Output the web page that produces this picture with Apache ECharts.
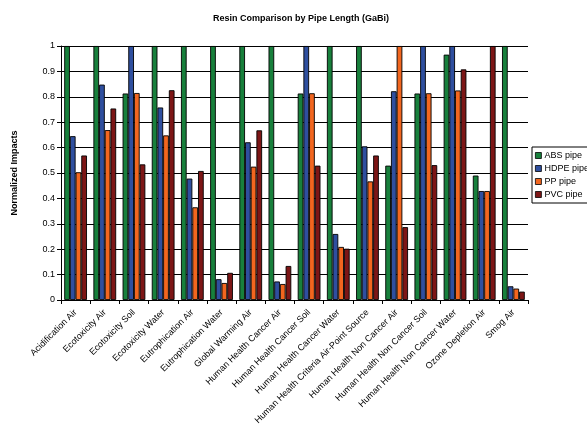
<!DOCTYPE html>
<html>
<head>
<meta charset="utf-8">
<script src="https://cdn.jsdelivr.net/npm/echarts@6/dist/echarts.min.js"></script>
<style>
html,body{margin:0;padding:0;background:#fff;}
#chart{width:587px;height:425px;}
</style>
</head>
<body>
<div id="chart"></div>
<script>
const categories = [
  "Acidification Air","Ecotoxicity Air","Ecotoxicity Soil","Ecotoxicity Water",
  "Eutrophication Air","Eutrophication Water","Global Warming Air",
  "Human Health Cancer Air","Human Health Cancer Soil","Human Health Cancer Water",
  "Human Health Criteria Air-Point Source","Human Health Non Cancer Air",
  "Human Health Non Cancer Soil","Human Health Non Cancer Water",
  "Ozone Depletion Air","Smog Air"
];
const absPipe  = [1, 1, 0.813, 1, 1, 1, 1, 1, 0.813, 1, 1, 0.529, 0.813, 0.966, 0.490, 1];
const hdpePipe = [0.645, 0.848, 1, 0.758, 0.478, 0.082, 0.621, 0.073, 1, 0.260, 0.605, 0.822, 1, 1, 0.429, 0.054];
const ppPipe   = [0.503, 0.669, 0.815, 0.648, 0.365, 0.067, 0.525, 0.063, 0.814, 0.209, 0.467, 1, 0.814, 0.825, 0.429, 0.045];
const pvcPipe  = [0.569, 0.754, 0.534, 0.826, 0.508, 0.107, 0.668, 0.134, 0.529, 0.202, 0.569, 0.287, 0.531, 0.908, 1, 0.033];
const seriesNames = ["ABS pipe", "HDPE pipe", "PP pipe", "PVC pipe"];
const seriesColors = ["#18803c", "#2f4f9f", "#f2661f", "#7d1616"];
const yTicks = [0, 0.1, 0.2, 0.3, 0.4, 0.5, 0.6, 0.7, 0.8, 0.9, 1];

const font = "Liberation Sans, Arial, sans-serif";
const chart = echarts.init(document.getElementById('chart'), null, {renderer: 'canvas'});
const dataSets = [absPipe, hdpePipe, ppPipe, pvcPipe];

chart.setOption({
  animation: false,
  backgroundColor: '#fff',
  title: {
    text: 'Resin Comparison by Pipe Length (GaBi)',
    left: 296, top: 9, textAlign: 'center',
    textStyle: {fontFamily: font, fontSize: 9, fontWeight: 'bold', color: '#000'}
  },
  legend: {
    orient: 'vertical', left: 532, top: 147,
    padding: [3, 6, 3, 3],
    itemWidth: 6, itemHeight: 6, itemGap: 2,
    borderColor: '#000', borderWidth: 1,
    icon: 'rect',
    itemStyle: {borderColor: '#000', borderWidth: 0.8},
    textStyle: {fontFamily: font, fontSize: 9, color: '#000', padding: [0,0,0,-2], lineHeight: 11},
    data: seriesNames
  },
  grid: {left: 61, top: 46, right: 59, bottom: 125, containLabel: false, outerBoundsMode: 'none'},
  xAxis: {
    type: 'category',
    data: categories,
    axisLine: {lineStyle: {color: '#000', width: 1}},
    axisTick: {show: true, alignWithLabel: false, length: 4, lineStyle: {color: '#000'}},
    axisLabel: {
      interval: 0, rotate: 45, fontFamily: font, fontSize: 9, color: '#000', margin: 11
    }
  },
  yAxis: {
    type: 'value', min: 0, max: 1, interval: 0.1,
    name: 'Normalized Impacts',
    nameLocation: 'middle', nameGap: 42, nameRotate: 90,
    nameTextStyle: {fontFamily: font, fontSize: 9, fontWeight: 'bold', color: '#000'},
    axisLine: {show: true, lineStyle: {color: '#000', width: 1}},
    axisTick: {show: true, length: 4, lineStyle: {color: '#000'}},
    axisLabel: {
      fontFamily: font, fontSize: 9, color: '#000', margin: 6,
      formatter: v => {
        const r = Math.round(v * 10) / 10;
        return yTicks.includes(r) ? String(r) : '';
      }
    },
    splitLine: {show: true, lineStyle: {color: '#000', width: 1}}
  },
  series: seriesNames.map((n, i) => ({
    name: n,
    type: 'bar',
    data: dataSets[i],
    barGap: '0%',
    barCategoryGap: '22%',
    itemStyle: {color: seriesColors[i], borderColor: '#000', borderWidth: 0.9}
  }))
});
</script>
</body>
</html>
